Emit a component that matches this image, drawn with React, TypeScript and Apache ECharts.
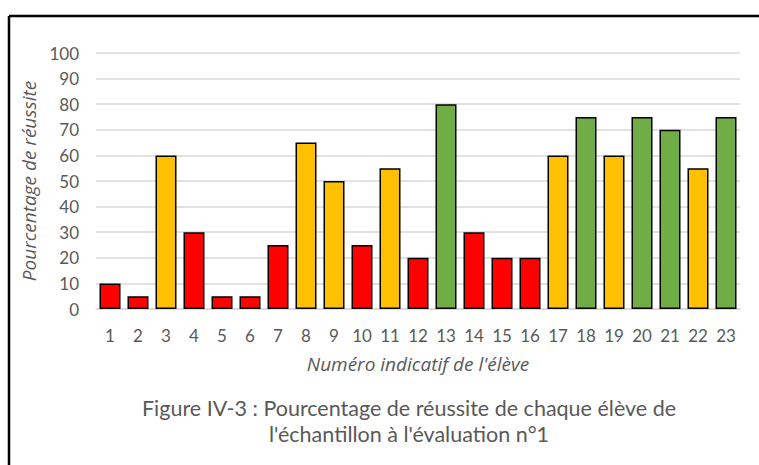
import React, { useEffect, useRef } from "react";
import * as echarts from "echarts";

const students = ["1","2","3","4","5","6","7","8","9","10","11","12","13","14","15","16","17","18","19","20","21","22","23"];
const scores = [10,5,60,30,5,5,25,65,50,25,55,20,80,30,20,20,60,75,60,75,70,55,75];
const levels = ["low","low","mid","low","low","low","low","mid","mid","low","mid","low","high","low","low","low","mid","high","mid","high","high","mid","high"];
const yTicks = [0,10,20,30,40,50,60,70,80,90,100];
const yAxisTitle = "Pourcentage de réussite";
const xAxisTitle = "Numéro indicatif de l'élève";
const captionLines = ["Figure IV-3 : Pourcentage de réussite de chaque élève de", "l'échantillon à l'évaluation n°1"];

const levelColors: Record<string, string> = { low: "#FF0000", mid: "#FFC000", high: "#70AD47" };
const FONT = "Lato, 'Open Sans', sans-serif";
const ITALIC_FONT = "'Open Sans', Lato, sans-serif";
const GREY = "#595959";

export default function App() {
  const ref = useRef<HTMLDivElement>(null);
  useEffect(() => {
    if (!ref.current) return;
    const chart = echarts.init(ref.current, null, { renderer: "svg" });
    chart.setOption({
      animation: false,
      backgroundColor: "#ffffff",
      grid: { left: 96, right: 19, top: 53, bottom: 156, containLabel: false },
      xAxis: {
        type: "category",
        data: students,
        name: xAxisTitle,
        nameLocation: "middle",
        nameGap: 45,
        nameTextStyle: { color: GREY, fontSize: 19, fontStyle: "italic", fontFamily: ITALIC_FONT },
        axisLine: { show: true, lineStyle: { color: "#D9D9D9", width: 1.5 } },
        axisTick: { show: false },
        axisLabel: { color: GREY, fontSize: 17, fontFamily: FONT, margin: 18, interval: 0 },
      },
      yAxis: {
        type: "value",
        min: yTicks[0],
        max: yTicks[yTicks.length - 1],
        interval: yTicks[1] - yTicks[0],
        name: yAxisTitle,
        nameLocation: "middle",
        nameGap: 51,
        nameRotate: 90,
        nameTextStyle: { color: GREY, fontSize: 19, fontStyle: "italic", fontFamily: ITALIC_FONT },
        axisLine: { show: false },
        axisTick: { show: false },
        axisLabel: { color: GREY, fontSize: 17, fontFamily: FONT, margin: 17 },
        splitLine: { lineStyle: { color: "#D9D9D9", width: 1.5 } },
      },
      series: [
        {
          type: "bar",
          barWidth: 21,
          data: scores.map((v, i) => ({
            value: v,
            itemStyle: { color: levelColors[levels[i]], borderColor: "#000000", borderWidth: 1.5 },
          })),
        },
      ],
      graphic: [
        { type: "line", shape: { x1: 9, y1: 16, x2: 759, y2: 16 }, style: { stroke: "#000", lineWidth: 2.5 } },
        { type: "line", shape: { x1: 9, y1: 16, x2: 9, y2: 465 }, style: { stroke: "#000", lineWidth: 2.5 } },
        ...captionLines.map((t, i) => ({
          type: "text",
          x: 409,
          y: 408 + i * 26,
          style: { text: t, fill: GREY, fontSize: 21.5, fontFamily: FONT, textAlign: "center", textVerticalAlign: "middle" },
        })),
      ],
    });
    return () => chart.dispose();
  }, []);
  return (
    <div
      ref={ref}
      style={{ position: "fixed", left: 0, top: 0, width: 759, height: 465, background: "#fff" }}
    />
  );
}
